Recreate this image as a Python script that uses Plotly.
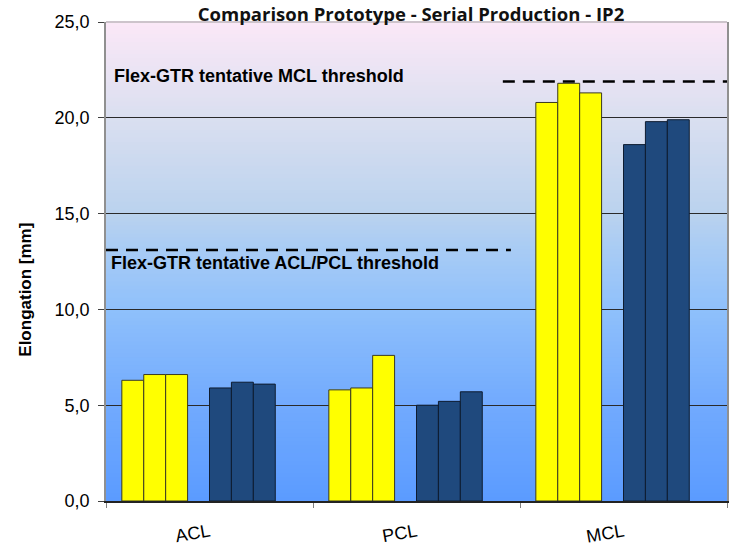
import plotly.graph_objects as go

# Elongation per ligament, three specimens each
categories = ["ACL", "PCL", "MCL"]
prototype = [
    [6.3, 5.8, 20.8],
    [6.6, 5.9, 21.8],
    [6.6, 7.6, 21.3],
]
serial = [
    [5.9, 5.0, 18.6],
    [6.2, 5.2, 19.8],
    [6.1, 5.7, 19.9],
]
mcl_threshold = 21.9
acl_pcl_threshold = 13.1
y_ticks = [0, 5, 10, 15, 20, 25]

YELLOW = "#ffff00"
BLUE = "#1f497d"
W, H = 731, 549
L, R, T, B = 106, 2, 22, 47
PW, PH = W - L - R, H - T - B

# eight slots per category (3 prototype, spacer, 3 serial, spacer)
bargap = 0.153
slot = (1 - bargap) / 8

fig = go.Figure()
series = [(prototype[i], YELLOW, "#3a3a20", i) for i in range(3)] + \
         [(serial[i], BLUE, "#0e1c30", 4 + i) for i in range(3)]
for vals, color, edge, s in series:
    fig.add_trace(go.Bar(
        x=categories, y=vals,
        width=slot, offset=-0.5 + bargap / 2 + s * slot,
        marker=dict(color=color, line=dict(color=edge, width=1)),
        showlegend=False,
    ))


def hex_to_rgb(h):
    h = h.lstrip("#")
    return [int(h[i:i + 2], 16) for i in (0, 2, 4)]


stops = [
    (0.0, "#5b9bff"),
    (0.2, "#71aafe"),
    (0.4, "#8fc0fb"),
    (0.52, "#a7cbf5"),
    (0.6, "#bad2ee"),
    (0.8, "#dadff0"),
    (1.0, "#fbe8f7"),
]


def color_at(t):
    for (t0, c0), (t1, c1) in zip(stops[:-1], stops[1:]):
        if t0 <= t <= t1:
            f = (t - t0) / (t1 - t0)
            a, b = hex_to_rgb(c0), hex_to_rgb(c1)
            return "rgb(%d,%d,%d)" % tuple(round(a[k] + (b[k] - a[k]) * f) for k in range(3))
    return stops[-1][1]


shapes = []
n = 120
for i in range(n):
    y0, y1 = i / n, (i + 1) / n
    shapes.append(dict(type="rect", xref="x domain", yref="y domain",
                       x0=0, x1=1, y0=y0, y1=y1 + 0.002, layer="below",
                       fillcolor=color_at((y0 + y1) / 2), line=dict(width=0)))

# top border of the plot area
shapes.append(dict(type="line", xref="x domain", yref="y domain", x0=0, x1=1, y0=1, y1=1,
                   line=dict(color="#a0a0a0", width=1)))

# threshold lines
shapes.append(dict(type="line", xref="x domain", yref="y", x0=0, x1=0.652,
                   y0=acl_pcl_threshold, y1=acl_pcl_threshold,
                   line=dict(color="black", width=2.5, dash="12px,8px")))
shapes.append(dict(type="line", xref="x domain", yref="y", x0=0.639, x1=1,
                   y0=mcl_threshold, y1=mcl_threshold,
                   line=dict(color="black", width=2.5, dash="12px,8px")))


def px(xp):
    return (xp - L) / PW


def py(yp):
    return (H - B - yp) / PH


FONT = "Arial, Liberation Sans"
annotations = [
    dict(text="<b>Flex-GTR tentative MCL threshold</b>", xref="paper", yref="paper",
         x=px(112), y=py(76), xanchor="left", yanchor="middle", showarrow=False,
         font=dict(family=FONT, size=18, color="black")),
    dict(text="<b>Flex-GTR tentative ACL/PCL threshold</b>", xref="paper", yref="paper",
         x=px(109), y=py(264), xanchor="left", yanchor="middle", showarrow=False,
         font=dict(family=FONT, size=18, color="black")),
    dict(text="<b>Elongation [mm]</b>", xref="paper", yref="paper",
         x=px(25), y=py(290), xanchor="center", yanchor="middle", showarrow=False,
         textangle=-90, font=dict(family=FONT, size=17, color="black")),
]

fig.update_layout(
    width=W, height=H,
    margin=dict(l=L, r=R, t=T, b=B),
    paper_bgcolor="white",
    plot_bgcolor="rgba(0,0,0,0)",
    barmode="overlay",
    separators=",.",
    title=dict(text="<b>Comparison Prototype - Serial Production - IP2</b>",
               x=411 / W, xanchor="center", xref="container",
               y=1 - 15 / H, yanchor="middle", yref="container",
               font=dict(family="Open Sans", size=18.5, color="#111111")),
    shapes=shapes,
    annotations=annotations,
    xaxis=dict(
        type="category", range=[-0.5, 2.5],
        tickson="boundaries", ticks="outside", ticklen=5, tickcolor="#808080",
        tickangle=-10, ticklabelstandoff=12,
        tickfont=dict(family=FONT, size=18, color="black"),
        showline=True, linecolor="#222222", linewidth=1.5,
        showgrid=False, zeroline=False,
    ),
    yaxis=dict(
        range=[0, 25], tickvals=y_ticks, tickformat=".1f",
        ticks="outside", ticklen=6, tickcolor="#404040",
        ticklabelstandoff=5,
        tickfont=dict(family=FONT, size=18, color="black"),
        showline=True, linecolor="#909090", linewidth=1.5, mirror=True,
        showgrid=True, gridcolor="#2a2a2a", gridwidth=1,
        zeroline=False,
    ),
)

fig.write_html("out.html")
